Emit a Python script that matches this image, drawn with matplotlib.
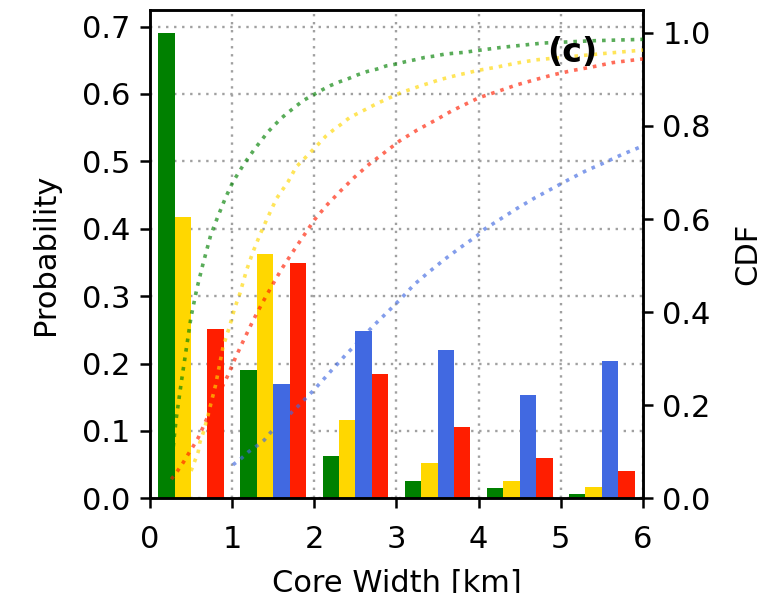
import matplotlib
matplotlib.use("Agg")
import matplotlib.pyplot as plt
import numpy as np

# Binned core-width probabilities (1 km bins), four groups per bin
bin_left = [0, 1, 2, 3, 4, 5]
prob_green = [0.690, 0.190, 0.063, 0.026, 0.016, 0.006]
prob_gold = [0.418, 0.362, 0.116, 0.052, 0.026, 0.017]
prob_blue = [0.000, 0.170, 0.248, 0.220, 0.153, 0.203]
prob_red = [0.251, 0.349, 0.185, 0.106, 0.060, 0.040]

# Cumulative distribution curves
cdf_green_x = [0.25, 0.30, 0.32, 0.35, 0.385, 0.44, 0.50, 0.57, 0.64, 0.74, 0.83, 0.92,
               1.01, 1.15, 1.28, 1.44, 1.60, 1.78, 1.88, 1.99, 2.09, 2.20, 2.31, 2.42,
               2.53, 2.645, 2.76, 2.876, 3.0, 3.11, 3.22, 3.34, 3.46, 3.58, 3.69, 3.82,
               3.94, 4.29, 4.78, 5.39, 6.0]
cdf_green_y = [0.05, 0.14, 0.172, 0.21, 0.254, 0.319, 0.39, 0.45, 0.50, 0.566, 0.607, 0.646,
               0.68, 0.72, 0.752, 0.788, 0.817, 0.843, 0.856, 0.867, 0.877, 0.887, 0.895, 0.902,
               0.91, 0.917, 0.922, 0.929, 0.933, 0.938, 0.942, 0.947, 0.95, 0.954, 0.956, 0.958,
               0.961, 0.969, 0.978, 0.983, 0.986]

cdf_gold_x = [0.45, 0.507, 0.547, 0.587, 0.607, 0.648, 0.68, 0.709, 0.741, 0.798, 0.85, 0.89,
              0.97, 1.03, 1.094, 1.175, 1.255, 1.345, 1.437, 1.54, 1.68, 1.78, 1.88, 2.05,
              2.14, 2.23, 2.33, 2.43, 2.53, 2.63, 2.75, 2.86, 2.96, 3.06, 3.18, 3.29, 3.40,
              3.52, 3.65, 3.76, 3.87, 3.98, 4.21, 4.46, 4.70, 5.55, 6.0]
cdf_gold_y = [0.04, 0.062, 0.081, 0.10, 0.12, 0.141, 0.161, 0.18, 0.203, 0.243, 0.29, 0.326,
              0.37, 0.408, 0.44, 0.49, 0.53, 0.569, 0.605, 0.644, 0.68, 0.712, 0.73, 0.761,
              0.778, 0.791, 0.804, 0.818, 0.827, 0.836, 0.847, 0.856, 0.864, 0.872, 0.879, 0.886, 0.892,
              0.899, 0.905, 0.91, 0.914, 0.919, 0.926, 0.935, 0.942, 0.956, 0.963]

cdf_blue_x = [1.01, 1.10, 1.20, 1.296, 1.39, 1.466, 1.72, 1.815, 1.896, 1.985, 2.14, 2.22,
              2.30, 2.38, 2.47, 2.71, 2.89, 3.06, 3.22, 3.40, 3.59, 3.78, 3.98, 4.07, 4.265,
              4.47, 4.68, 4.89, 5.10, 5.31, 5.53, 5.75, 6.0]
cdf_blue_y = [0.072, 0.084, 0.10, 0.112, 0.125, 0.141, 0.184, 0.20, 0.215, 0.231, 0.261, 0.277,
              0.292, 0.308, 0.324, 0.369, 0.40, 0.43, 0.46, 0.487, 0.514, 0.539, 0.564, 0.578, 0.60,
              0.623, 0.645, 0.665, 0.685, 0.704, 0.721, 0.739, 0.757]

cdf_red_x = [0.26, 0.336, 0.405, 0.466, 0.527, 0.587, 0.636, 0.689, 0.90, 0.94, 1.045, 1.146,
             1.255, 1.365, 1.479, 1.60, 1.733, 1.863, 2.0, 2.147, 2.317, 2.49, 2.67, 2.856,
             3.04, 3.25, 3.46, 3.67, 3.89, 4.01, 4.23, 4.46, 4.68, 4.91, 5.14, 5.39, 5.63, 6.0]
cdf_red_y = [0.041, 0.059, 0.077, 0.095, 0.112, 0.130, 0.149, 0.170, 0.247, 0.261, 0.304, 0.342,
             0.382, 0.419, 0.455, 0.492, 0.528, 0.562, 0.598, 0.629, 0.66, 0.69, 0.718, 0.743,
             0.768, 0.791, 0.811, 0.832, 0.851, 0.861, 0.874, 0.888, 0.899, 0.91, 0.919, 0.927, 0.936, 0.944]

colors = ["green", "gold", "royalblue", "#ff1e00"]
series = [prob_green, prob_gold, prob_blue, prob_red]
cdfs = [(cdf_green_x, cdf_green_y), (cdf_gold_x, cdf_gold_y),
        (cdf_blue_x, cdf_blue_y), (cdf_red_x, cdf_red_y)]

plt.rcParams["font.family"] = ["DejaVu Sans"]
fs = 22

fig = plt.figure(figsize=(7.66, 5.93), dpi=100)
ax = fig.add_axes([0.1958, 0.1597, 0.6436, 0.8234])
bar_w = 0.2
for i, (vals, c) in enumerate(zip(series, colors)):
    x = np.array(bin_left) + 0.1 + i * bar_w
    ax.bar(x, vals, width=bar_w, align="edge", color=c, zorder=2)

ax.set_xlim(0, 6)
ax.set_ylim(0, 0.7245)
ax.set_xticks(range(0, 7))
ax.set_yticks(np.arange(0, 0.71, 0.1))
ax.set_yticklabels([f"{v:.1f}" for v in np.arange(0, 0.71, 0.1)])
ax.grid(True, linestyle=(0, (1, 2.4)), color="#a0a0a0", linewidth=1.7, zorder=0)
ax.set_axisbelow(True)
ax.set_xlabel("Core Width [km]", fontsize=fs, labelpad=11)
ax.set_ylabel("Probability", fontsize=fs, labelpad=16)

ax2 = ax.twinx()
for (cx, cy), c in zip(cdfs, colors):
    ax2.plot(cx, cy, linestyle=":", color=c, alpha=0.65, linewidth=2.6, zorder=3)
ax2.set_ylim(0, 1.049)
ax2.set_yticks(np.arange(0, 1.01, 0.2))
ax2.set_yticklabels([f"{v:.1f}" for v in np.arange(0, 1.01, 0.2)])
ax2.set_ylabel("CDF", fontsize=fs, labelpad=16)
ax2.text(5.14, 0.958, "(c)", fontsize=fs + 2, fontweight="bold",
         ha="center", va="center", zorder=5)

for a in (ax, ax2):
    a.tick_params(axis="both", labelsize=fs, direction="out", length=7, width=1.8, pad=7)
    for s in a.spines.values():
        s.set_linewidth(1.8)
ax.tick_params(axis="x", pad=12)

fig.savefig("out.png", dpi=100)
